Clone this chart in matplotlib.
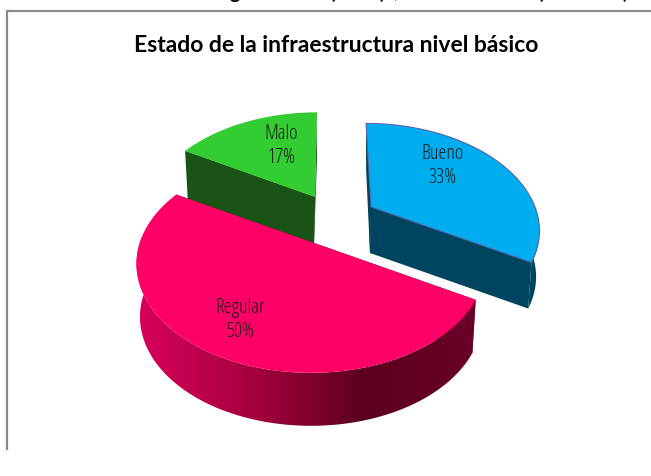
import numpy as np
import matplotlib
matplotlib.use("Agg")
import matplotlib.pyplot as plt
from matplotlib.colors import LinearSegmentedColormap
from matplotlib.patches import Polygon

categories = ["Bueno", "Regular", "Malo"]
values = [33.3, 50.0, 16.7]
title = "Estado de la infraestructura nivel básico"
# bottoms of a line of text cut off by the top of the image
cut_glyphs = ["g", "(", ")", ",", "(", ")"]

W, H = 651, 477
TILT = 0.612
PERSP = 0.2
WALL_SHRINK = 0.98

# per slice layout: apex pixel, radius, wall height, lean, label pixel
apex = {"Bueno": (371, 208), "Regular": (311, 243), "Malo": (315, 198)}
radius = {"Bueno": 164, "Regular": 171, "Malo": 166}
wall = {"Bueno": 46, "Regular": 53, "Malo": 48}
lean = {"Bueno": -5, "Regular": 0, "Malo": 2}
label_at = {"Bueno": (442, 166), "Regular": (240, 320), "Malo": (281, 146)}
top_col = {"Bueno": "#00ADEF", "Regular": "#FF0066", "Malo": "#33CC33"}
cut_col = {"Bueno": "#00455F", "Regular": "#8A0038", "Malo": "#1A5316"}
edge_col = {"Bueno": "#5A5AA8", "Regular": "none", "Malo": "none"}
wall_cmap = LinearSegmentedColormap.from_list(
    "wall", ["#D8005C", "#A8003F", "#5C0020", "#6A0028"]
)


def project(name, ang, h=0.0):
    # ang is clockwise from 12 o'clock, on a tilted disc seen in perspective
    x, y = np.sin(ang), np.cos(ang)
    s = 1 / (1 + PERSP * y)
    R = radius[name]
    shrink = WALL_SHRINK if h else 1.0
    return (
        apex[name][0] + (R * x * s + lean[name] * y) * shrink,
        apex[name][1] - R * TILT * y * s + h * wall[name],
    )


def draw_slice(ax, name, a0, a1):
    ang = np.linspace(a0, a1, 160)
    px, py = project(name, ang)
    ax0, ay0 = apex[name]
    w = wall[name]
    for a in (a0, a1):
        ex, ey = project(name, a)
        ex2, ey2 = project(name, a, 1)
        ax.add_patch(
            Polygon(
                [(ax0, ay0), (ex, ey), (ex2, ey2), (ax0 - 1, ay0 + w)],
                fc=cut_col[name],
                ec="none",
                zorder=2,
            )
        )
        # sliver of the cut face showing along a leaning edge
        ax.add_patch(
            Polygon(
                [(ex, ey), (ax0 - 1, ay0 + w), (ax0, ay0)],
                fc=cut_col[name],
                ec="none",
                zorder=2,
            )
        )
    # outer wall, only the part facing the viewer
    keep = np.cos(ang) <= 0.05
    bx, by = project(name, ang, 1)
    outline = np.vstack(
        [np.column_stack([px[keep], py[keep]]), np.column_stack([bx[keep], by[keep]])[::-1]]
    )
    wall_patch = Polygon(
        outline,
        fc=cut_col[name],
        ec="none",
        zorder=3,
    )
    ax.add_patch(wall_patch)
    if name == "Regular":
        wall_patch.set_facecolor("none")
        grad = np.linspace(0, 1, 256).reshape(1, -1)
        im = ax.imshow(
            grad,
            cmap=wall_cmap,
            extent=[px[keep].min(), px[keep].max(), H, 0],
            aspect="auto",
            zorder=3,
        )
        im.set_clip_path(wall_patch)
    ax.add_patch(
        Polygon(
            np.vstack([[ax0, ay0], np.column_stack([px, py])]),
            fc=top_col[name],
            ec=edge_col[name],
            lw=0.7,
            zorder=4,
        )
    )


fig = plt.figure(figsize=(W / 100, H / 100), dpi=100)
ax = fig.add_axes([0, 0, 1, 1])

# chart frame, open at the bottom and right like the crop
ax.plot([W, 7, 7], [12, 12, 450], color="#8C8C8C", lw=1.6)

start = 0.0
angles = {}
for name, v in zip(categories, values):
    angles[name] = (start, start + v / sum(values) * 2 * np.pi)
    start = angles[name][1]

# back to front
for name in ["Malo", "Bueno", "Regular"]:
    draw_slice(ax, name, *angles[name])

ax.set_xlim(0, W)
ax.set_ylim(H, 0)
ax.axis("off")

for name, v in zip(categories, values):
    ax.text(
        *label_at[name],
        f"{name}\n{v:.0f}%",
        ha="center",
        va="center",
        fontsize=14.5,
        family="Open Sans",
        stretch="condensed",
        color="#1A1A1A",
        linespacing=1.22,
        zorder=5,
    )

ax.text(336, 45, title, ha="center", va="center", fontsize=16.5, fontweight="bold",
        family="Lato", color="black")

for glyph, x in zip(cut_glyphs, [235, 332, 382, 395, 540, 625]):
    ax.text(x, -1.5, glyph, ha="center", va="baseline", fontsize=14, fontweight="bold",
            family="Lato", color="black", clip_on=False)

fig.savefig("out.png", dpi=100)
